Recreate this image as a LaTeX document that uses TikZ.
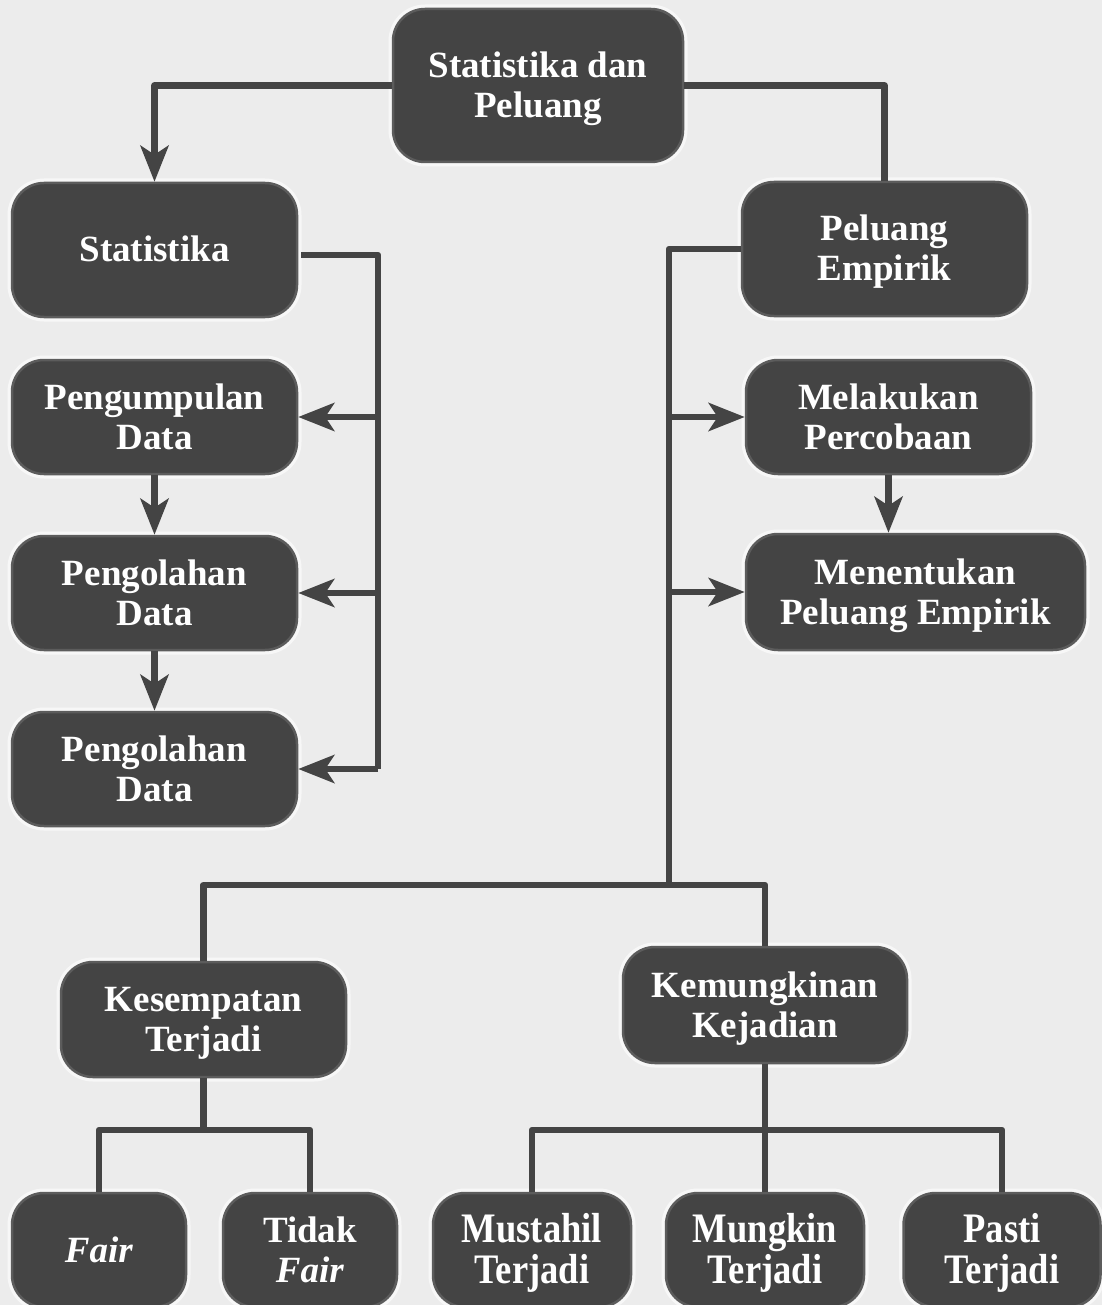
\documentclass[tikz,border=0pt]{standalone}
\usepackage{fontspec}
\setmainfont{Liberation Serif}
\newfontfamily\condfont[FakeStretch=0.87]{Liberation Serif}
\usetikzlibrary{arrows.meta,calc}
\definecolor{bgc}{HTML}{ECECEC}
\definecolor{boxc}{HTML}{444444}
\definecolor{edgec}{HTML}{5C5C5C}
\definecolor{linec}{HTML}{444444}
\newcommand\boxtext[1]{\raisebox{-4pt}[\height][\depth]{\begin{tabular}{@{}c@{}}#1\end{tabular}}}
\begin{document}
\begin{tikzpicture}[x=1pt,y=-1pt,
  box/.style={rounded corners=32pt, fill=boxc, draw=edgec, line width=2.5pt,
    preaction={draw=white, line width=9pt, opacity=0.6},
    text=white, inner sep=0pt,
    font=\bfseries\fontsize{37}{40}\selectfont},
  cbox/.style={box, font=\condfont\bfseries\fontsize{42}{40}\selectfont},
  conn/.style={draw=linec, line width=6.5pt, line join=round},
  arr/.style={conn, -{Stealth[length=36pt,width=28pt,inset=9pt]}}]
\fill[bgc] (0,0) rectangle (1102,1305);
\useasboundingbox (0,0) rectangle (1102,1305);

% nodes
\node[box, minimum width=290pt, minimum height=153pt] (top) at (538,85.5) {\boxtext{Statistika dan\\Peluang}};
\node[box, minimum width=285pt, minimum height=134pt] (stat) at (154.5,250) {\boxtext{Statistika}};
\node[box, minimum width=285pt, minimum height=134pt] (pe) at (884.5,249) {\boxtext{Peluang\\Empirik}};
\node[box, minimum width=285pt, minimum height=114pt] (pd) at (154.5,417) {\boxtext{Pengumpulan\\Data}};
\node[box, minimum width=285pt, minimum height=114pt] (po1) at (154.5,593) {\boxtext{Pengolahan\\Data}};
\node[box, minimum width=285pt, minimum height=114pt] (po2) at (154.5,769) {\boxtext{Pengolahan\\Data}};
\node[box, minimum width=285pt, minimum height=114pt] (mp) at (888.5,417) {\boxtext{Melakukan\\Percobaan}};
\node[box, minimum width=339pt, minimum height=116pt] (mpe) at (915.5,592) {\boxtext{Menentukan\\Peluang Empirik}};
\node[box, minimum width=285pt, minimum height=115pt] (kt) at (203.5,1019.5) {\boxtext{Kesempatan\\Terjadi}};
\node[box, minimum width=284pt, minimum height=116pt] (kk) at (765,1005) {\boxtext{Kemungkinan\\Kejadian}};
\node[box, minimum width=174pt, minimum height=114pt] (fair) at (99,1250) {\boxtext{\textit{Fair}}};
\node[box, minimum width=174pt, minimum height=114pt] (tfair) at (310,1250) {\boxtext{Tidak\\\textit{Fair}}};
\node[cbox, minimum width=198pt, minimum height=114pt] (mus) at (532,1250) {\boxtext{Mustahil\\Terjadi}};
\node[cbox, minimum width=198pt, minimum height=114pt] (mung) at (765,1250) {\boxtext{Mungkin\\Terjadi}};
\node[cbox, minimum width=197pt, minimum height=114pt] (pasti) at (1002,1250) {\boxtext{Pasti\\Terjadi}};

% coordinates
\coordinate (tl) at (378,769);
\coordinate (tr) at (669,885);
\coordinate (kb) at (203.5,1130);
\coordinate (kkb) at (765,1130);

% connectors
\draw[arr] (top.west) -| (stat.north);
\draw[conn] (top.east) -| (pe.north);

\draw[conn] ([shift={(3,5)}]stat.east) -| (tl);
\draw[arr] (tl |- pd.east) -- (pd.east);
\draw[arr] (tl |- po1.east) -- (po1.east);
\draw[arr] (tl) -- (po2.east);
\draw[arr] (pd.south) -- (po1.north);
\draw[arr] (po1.south) -- (po2.north);

\draw[conn] (pe.west) -| (tr);
\draw[arr] (tr |- mp.west) -- (mp.west);
\draw[arr] (tr |- mpe.west) -- (mpe.west);
\draw[arr] (mp.south) -- (mp.south |- mpe.north);

\draw[conn] (kt.north) |- (tr) -| (kk.north);

\draw[conn] (kt.south) -- (kb);
\draw[conn] (fair.north) |- (kb) -| (tfair.north);
\draw[conn] (kk.south) -- (mung.north);
\draw[conn] (mus.north) |- (kkb) -| (pasti.north);
\end{tikzpicture}
\end{document}
